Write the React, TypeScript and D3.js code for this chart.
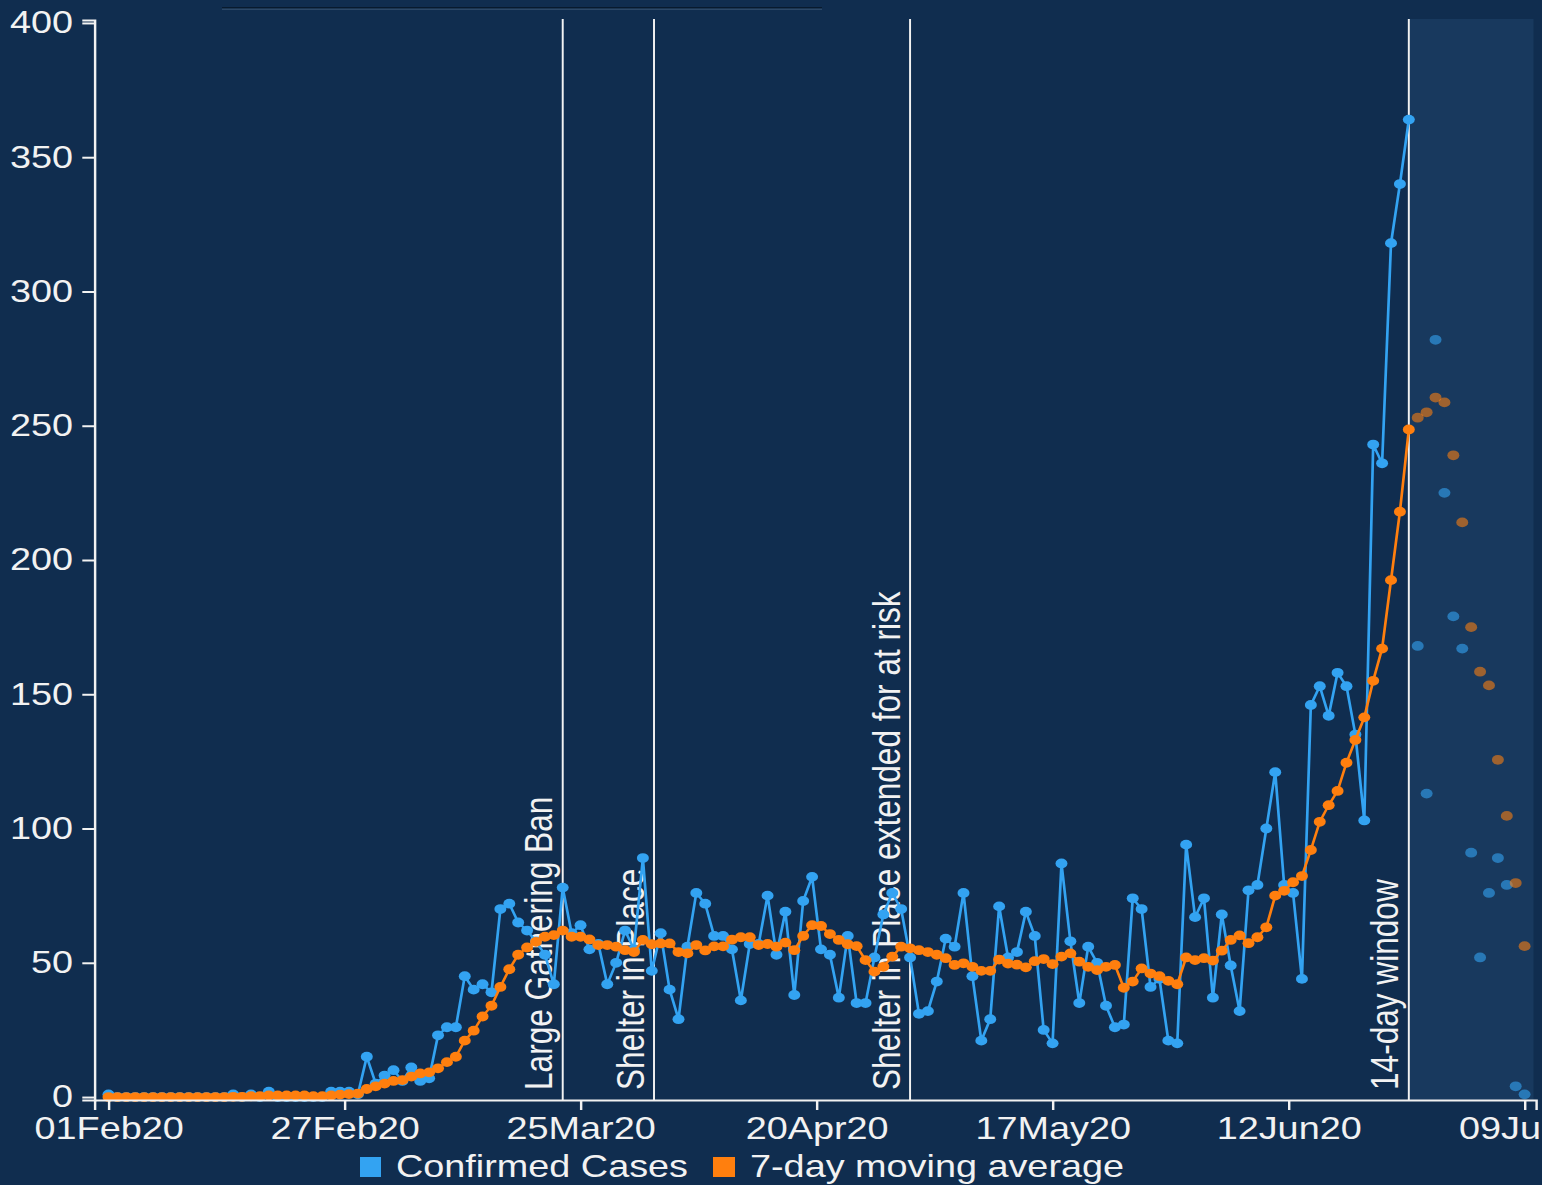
import React, { useEffect, useRef } from "react";
import * as d3 from "d3";

// ---------------- data ----------------
const FIRST_DAY = "2020-02-01";

// daily confirmed cases, 01Feb20 .. 26Jun20
const confirmedCases = [
  1, 0, 0, 0, 0, 0, 0, 0, 0, 0,
  0, 0, 0, 0, 1, 0, 1, 0, 2, 0,
  0, 0, 0, 0, 0, 2, 2, 2, 1, 15,
  5, 8, 10, 6, 11, 6, 7, 23, 26, 26,
  45, 40, 42, 39, 70, 72, 65, 62, 58, 53,
  42, 78, 61, 64, 55, 57, 42, 50, 62, 55,
  89, 47, 61, 40, 29, 56, 76, 72, 60, 60,
  55, 36, 57, 57, 75, 53, 69, 38, 73, 82,
  55, 53, 37, 60, 35, 35, 52, 68, 76, 70,
  52, 31, 32, 43, 59, 56, 76, 45, 21, 29,
  71, 52, 54, 69, 60, 25, 20, 87, 58, 35,
  56, 50, 34, 26, 27, 74, 70, 41, 44, 21,
  20, 94, 67, 74, 37, 68, 49, 32, 77, 79,
  100, 121, 79, 76, 44, 146, 153, 142, 158, 153,
  135, 103, 243, 236, 318, 340, 364,
];

// 7-day moving average, 01Feb20 .. 26Jun20
const movingAverage = [
  0, 0, 0, 0, 0, 0, 0, 0, 0, 0,
  0, 0, 0, 0, 0.1, 0.1, 0.3, 0.3, 0.6, 0.6,
  0.6, 0.6, 0.6, 0.3, 0.3, 0.6, 0.9, 1.1, 1.3, 3,
  4, 5, 6, 6.3, 7.6, 8.8, 9.2, 10.7, 13, 15,
  21, 24.7, 30, 34, 41, 47.6, 53, 55.7, 57.8, 59.7,
  60.3, 62, 59.7, 59.7, 58.7, 56.6, 56.6, 56, 54.7, 54,
  58.5, 56.9, 57.2, 57.2, 54, 53.5, 56.6, 54.6, 56.1, 56.1,
  58.6, 59.5, 59.5, 56.6, 57, 56, 57.5, 54.7, 60, 64,
  63.7, 60.7, 58.5, 56.9, 56.2, 51, 46.7, 48.5, 52.3, 56,
  55.4, 54.7, 54, 53, 51.7, 49.2, 49.8, 48.5, 47, 47,
  51.2, 49.7, 49.3, 48.3, 50.6, 51.4, 49.5, 52.3, 53.5, 50.4,
  48.5, 47.3, 48.5, 49.2, 40.7, 43, 47.9, 46, 45, 43.3,
  42, 52, 51, 51.7, 50.8, 54.5, 58.5, 60.2, 57.3, 59.5,
  63.2, 75, 76.8, 80, 82.3, 92, 102.5, 108.7, 114, 124.5,
  133, 141.4, 155, 167, 192.5, 218, 248.6,
];

// faded points inside the 14-day window, 27Jun20 .. 09Jul20
const windowCases = [168, 113, 282, 225, 179, 167, 91, 52, 76, 89, 79, 4, 1];
const windowAverage = [253, 255, 260.5, 258.7, 239, 214, 175, 158.4, 153.3, 125.6, 104.7, 79.7, 56.2];

const eventDates = ["2020-03-23T00:00Z", "2020-04-02T06:00Z", "2020-05-01T00:00Z", "2020-06-26T00:00Z"];
const eventLabels = [
  "Large Gathering Ban",
  "Shelter in Place",
  "Shelter in Place extended for at risk",
  "14-day window",
];
const windowStart = "2020-06-26";
const windowEnd = "2020-07-10";

const xTickDates = [
  "2020-02-01T00:00Z",
  "2020-02-27T12:00Z",
  "2020-03-25T00:00Z",
  "2020-04-20T12:00Z",
  "2020-05-17T00:00Z",
  "2020-06-12T12:00Z",
  "2020-07-09T00:00Z",
];
const yTicks = [0, 50, 100, 150, 200, 250, 300, 350, 400];

const legendLabels = ["Confirmed Cases", "7-day moving average"];

// ---------------- styling ----------------
const W = 1542;
const H = 1185;
const SX = 1.22; // horizontal stretch of the original picture
const VW = W / SX;
const BG = "#102d4f";
const SHADE = "#18395e";
const BLUE = "#33a3f2";
const ORANGE = "#ff7f0e";
const WHITE = "#f2f2f2";
const FONT = "'Liberation Sans', Arial, Helvetica, sans-serif";
const DAY = 86400000;

const dayDate = (i: number) => new Date(Date.parse(FIRST_DAY + "T00:00Z") + i * DAY);
const px = (p: number) => p / SX;

export default function App() {
  const gx = useRef<SVGGElement>(null);
  const gy = useRef<SVGGElement>(null);

  const x = d3
    .scaleUtc()
    .domain([dayDate(0), dayDate(159)])
    .range([px(108.5), px(1524.6)]);
  const xAxisScale = x
    .copy()
    .domain([x.invert(px(94.5)), x.invert(px(1536))])
    .range([px(94.5), px(1536)]);
  const y = d3.scaleLinear().domain([-1.1, 401.1]).range([1100, 20]);

  const fmt = d3.utcFormat("%d%b%y");

  useEffect(() => {
    const ax = d3
      .axisBottom(xAxisScale)
      .tickValues(xTickDates.map((s) => new Date(s)))
      .tickFormat((d: any) => fmt(d))
      .tickSize(10)
      .tickSizeOuter(10)
      .tickPadding(7);
    const gX = d3.select(gx.current as SVGGElement);
    gX.call(ax as any);
    gX.attr("font-size", 31).attr("font-family", FONT).attr("color", WHITE);
    gX.selectAll("path,line").attr("stroke-width", 2);

    const ay = d3
      .axisLeft(y)
      .tickValues(yTicks)
      .tickSize(10)
      .tickSizeOuter(10)
      .tickPadding(7.6);
    const gY = d3.select(gy.current as SVGGElement);
    gY.call(ay as any);
    gY.attr("font-size", 31).attr("font-family", FONT).attr("color", WHITE);
    gY.selectAll("path,line").attr("stroke-width", 2);
  }, []);

  const lineGen = d3
    .line<number>()
    .x((_, i) => x(dayDate(i)))
    .y((v) => y(v));

  const r = 4.9;
  const offset = confirmedCases.length;

  return (
    <div style={{ position: "absolute", left: 0, top: 0 }}>
      <svg
        width={W}
        height={H}
        viewBox={`0 0 ${VW} ${H}`}
        preserveAspectRatio="none"
        style={{ display: "block" }}
      >
        <rect x={0} y={0} width={VW} height={H} fill={BG} />
        <rect
          x={x(new Date(windowStart + "T00:00Z"))}
          y={19}
          width={x(new Date(windowEnd + "T00:00Z")) - x(new Date(windowStart + "T00:00Z"))}
          height={1100 - 19}
          fill={SHADE}
        />
        {/* faint rule at the top */}
        <rect x={px(222)} y={7} width={px(600)} height={1.5} fill="#081a2e" />
        <rect x={px(222)} y={8.6} width={px(600)} height={1.2} fill="#34506f" />

        {/* event lines and labels */}
        {eventDates.map((d, i) => {
          const ex = x(new Date(d));
          return (
            <g key={d}>
              <line x1={ex} x2={ex} y1={19} y2={1100} stroke={WHITE} strokeWidth={1.6} />
              <text
                transform={`translate(${ex - px(10.5)},1090) rotate(-90)`}
                fill={WHITE}
                fontSize={31.6}
                fontFamily={FONT}
              >
                {eventLabels[i]}
              </text>
            </g>
          );
        })}

        {/* confirmed cases */}
        <path d={lineGen(confirmedCases) || ""} fill="none" stroke={BLUE} strokeWidth={2.2} />
        {confirmedCases.map((v, i) => (
          <circle key={"b" + i} cx={x(dayDate(i))} cy={y(v)} r={r} fill={BLUE} />
        ))}

        {/* moving average */}
        <path d={lineGen(movingAverage) || ""} fill="none" stroke={ORANGE} strokeWidth={2.2} />
        {movingAverage.map((v, i) => (
          <circle key={"o" + i} cx={x(dayDate(i))} cy={y(v)} r={r} fill={ORANGE} />
        ))}

        {/* faded window points */}
        {windowCases.map((v, i) => (
          <circle
            key={"wb" + i}
            cx={x(dayDate(offset + i))}
            cy={y(v)}
            r={r}
            fill={BLUE}
            opacity={0.6}
          />
        ))}
        {windowAverage.map((v, i) => (
          <circle
            key={"wo" + i}
            cx={x(dayDate(offset + i))}
            cy={y(v)}
            r={r}
            fill={ORANGE}
            opacity={0.58}
          />
        ))}

        {/* axes */}
        <g ref={gx} transform={`translate(0,1100)`} />
        <g ref={gy} transform={`translate(${px(94.5)},0)`} />

        {/* legend */}
        <rect x={px(360)} y={1157} width={px(21)} height={20} fill={BLUE} />
        <text x={px(396)} y={1177} fill={WHITE} fontSize={31} fontFamily={FONT}>
          {legendLabels[0]}
        </text>
        <rect x={px(713)} y={1157} width={px(22)} height={20} fill={ORANGE} />
        <text x={px(750)} y={1177} fill={WHITE} fontSize={31} fontFamily={FONT}>
          {legendLabels[1]}
        </text>
      </svg>
    </div>
  );
}
